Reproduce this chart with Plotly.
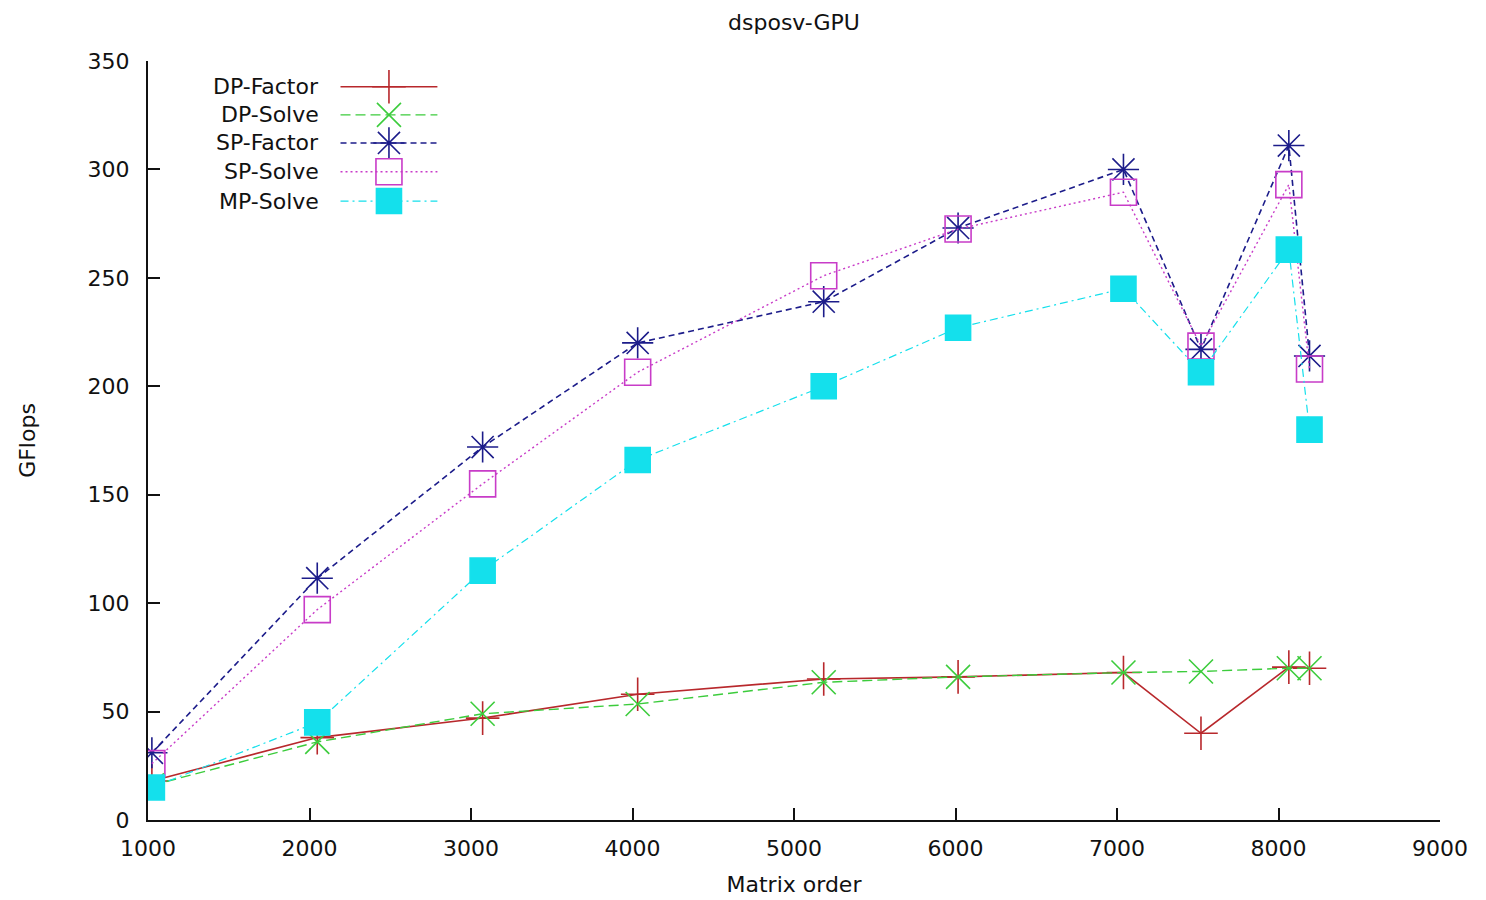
import plotly.graph_objects as go

# Matrix orders tested
matrix_order = [1024, 2048, 3072, 4032, 5184, 6016, 7040, 7520, 8064, 8192]

# Measured performance in GFlops
dp_factor = [18, 38, 47, 58, 65, 66, 68, 40, 70.5, 70]
dp_solve = [16, 36, 49, 53.5, 63.5, 66, 68, 68.5, 70, 70]
sp_factor = [31, 111.5, 172, 220, 239, 273, 300, 217, 311, 214]
sp_solve = [26, 97, 155, 206.5, 251, 272.5, 289.5, 218.5, 293, 208]
mp_solve = [15, 45, 115, 166, 200, 227, 245, 206.5, 263, 180]

series_names = ["DP-Factor", "DP-Solve", "SP-Factor", "SP-Solve", "MP-Solve"]
series_values = [dp_factor, dp_solve, sp_factor, sp_solve, mp_solve]

x_ticks = [1000, 2000, 3000, 4000, 5000, 6000, 7000, 8000, 9000]
y_ticks = [0, 50, 100, 150, 200, 250, 300, 350]

FONT = "DejaVu Sans"
FS = 22
INK = "#111111"

styles = [
    dict(color="#b8282c", dash="solid", symbol="cross-thin-open", size=24, width=1.6),
    dict(color="#3ccc3c", dash="10px,5px", symbol="x-thin-open", size=24, width=1.4),
    dict(color="#1c1c8a", dash="6px,4px", symbol="asterisk-open", size=26, width=1.6),
    dict(color="#c83cc8", dash="2px,3px", symbol="square-open", size=26, width=1.4),
    dict(color="#14e0ec", dash="8px,4px,2px,4px", symbol="square", size=25, width=1.2),
]

fig = go.Figure()

for name, vals, st in zip(series_names, series_values, styles):
    fig.add_trace(go.Scatter(
        x=matrix_order, y=vals, name=name, mode="lines+markers",
        line=dict(color=st["color"], dash=st["dash"], width=st["width"]),
        marker=dict(symbol=st["symbol"], size=st["size"], color=st["color"],
                    line=dict(color=st["color"], width=1.6)),
        showlegend=False,
    ))

# Key drawn in the upper-left corner: label right-aligned, sample on its right
key_rows = [0.966, 0.929, 0.892, 0.854, 0.8155]
key_x0, key_x1, key_text_x = 0.149, 0.224, 0.134
for name, st, yk in zip(series_names, styles, key_rows):
    fig.add_trace(go.Scatter(
        x=[key_x0, key_x1], y=[yk, yk], mode="lines",
        line=dict(color=st["color"], dash=st["dash"], width=st["width"]),
        xaxis="x2", yaxis="y2", showlegend=False, hoverinfo="skip",
    ))
    fig.add_trace(go.Scatter(
        x=[(key_x0 + key_x1) / 2], y=[yk], mode="markers",
        marker=dict(symbol=st["symbol"], size=st["size"], color=st["color"],
                    line=dict(color=st["color"], width=1.6)),
        xaxis="x2", yaxis="y2", showlegend=False, hoverinfo="skip",
    ))
    fig.add_annotation(
        x=key_text_x, y=yk, xref="paper", yref="paper", text=name,
        showarrow=False, xanchor="right", yanchor="middle",
        font=dict(family=FONT, size=FS, color=INK),
    )

fig.update_layout(
    width=1486, height=900,
    margin=dict(l=148, r=46, t=61, b=80),
    paper_bgcolor="white", plot_bgcolor="white",
    font=dict(family=FONT, size=FS, color=INK),
    title=dict(text="dsposv-GPU", x=0.5, xref="paper", y=1 - 22 / 900,
               yref="container", xanchor="center", yanchor="middle",
               font=dict(family=FONT, size=FS, color=INK)),
    xaxis=dict(
        range=[1000, 9000], tickvals=x_ticks, ticktext=[str(v) for v in x_ticks],
        showgrid=False, zeroline=False, showline=True, linecolor=INK,
        linewidth=2, ticks="inside", ticklen=12, tickwidth=2, tickcolor=INK,
        mirror=False, ticklabelstandoff=8, automargin=False,
        title=dict(text="Matrix order", standoff=16,
                   font=dict(family=FONT, size=FS, color=INK)),
    ),
    yaxis=dict(
        range=[0, 350], tickvals=y_ticks, ticktext=[str(v) for v in y_ticks],
        showgrid=False, zeroline=False, showline=True, linecolor=INK,
        linewidth=2, ticks="inside", ticklen=12, tickwidth=2, tickcolor=INK,
        mirror=False, ticklabelstandoff=12, automargin=False,
        title=dict(text="GFlops", standoff=46,
                   font=dict(family=FONT, size=FS, color=INK)),
    ),
    xaxis2=dict(range=[0, 1], overlaying="x", visible=False, fixedrange=True),
    yaxis2=dict(range=[0, 1], overlaying="y", visible=False, fixedrange=True),
)

fig.write_html("out.html")
